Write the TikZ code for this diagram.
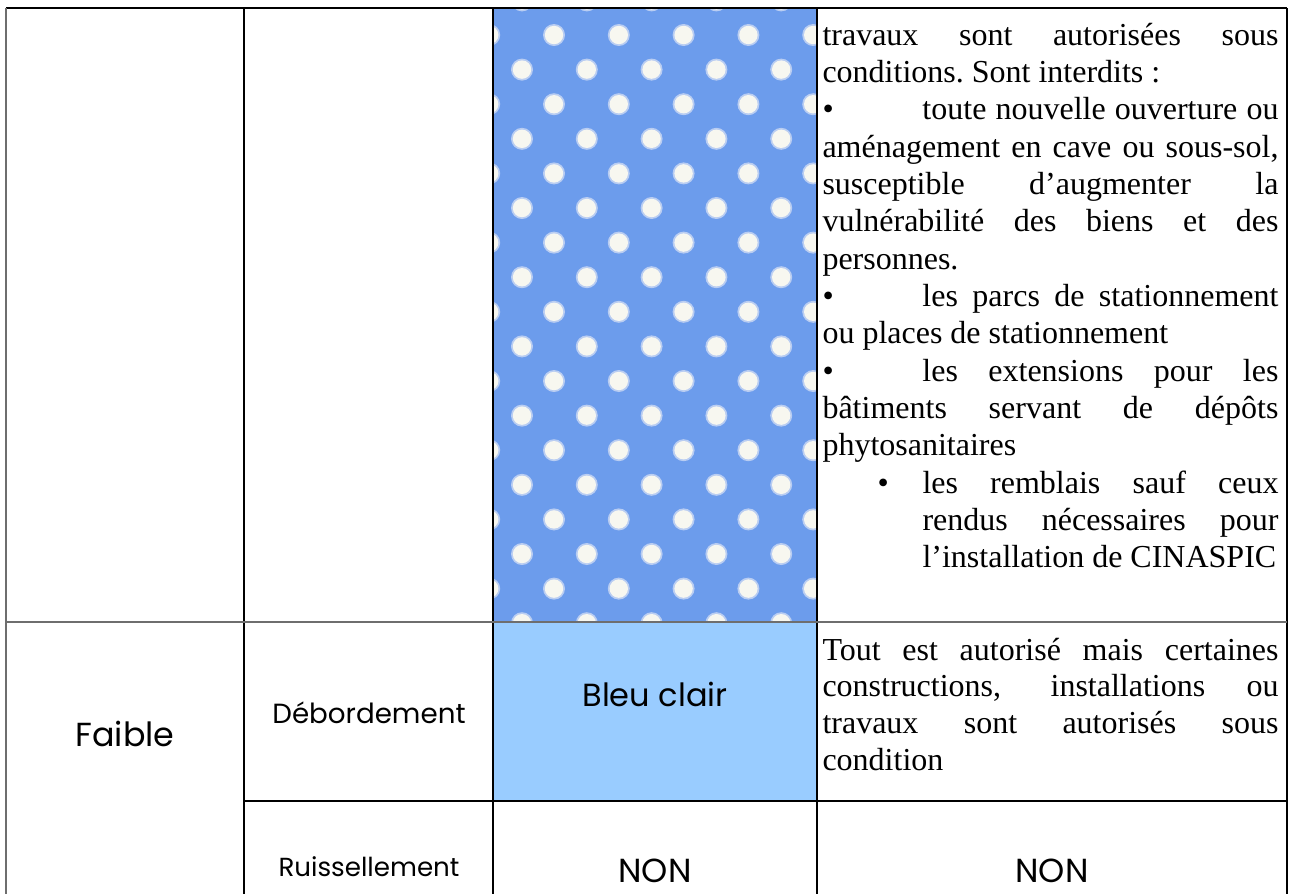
\documentclass[tikz,border=0pt]{standalone}
\usepackage{fontspec}
\setmainfont{Liberation Serif}
\newfontfamily\gothic{Poppins}

\definecolor{pois}{RGB}{108,156,236}
\definecolor{poisbord}{RGB}{185,205,242}
\definecolor{poisblanc}{RGB}{247,247,240}
\definecolor{bleuclair}{RGB}{153,204,255}
\definecolor{trait}{RGB}{110,110,110}

\newcommand{\puce}[1]{\makebox[#1][l]{\textbullet}}

\begin{document}
\tikzset{every picture/.style={line width=0.75pt}}
\tikzset{
  etiquette/.style={inner sep=0.75pt,font=\gothic},
  paragraphe/.style={anchor=base west,inner sep=0pt,text width=342pt,align=justify,
    font=\fontsize{24}{28}\selectfont},
  filet/.style={line width=1.1pt}
}

\begin{tikzpicture}[x=0.75pt,y=0.75pt,yscale=-1,xscale=1]
	\useasboundingbox (0,0) rectangle (1292,894);

	%Shape: Rectangle, blue cell with white dots
	\begin{scope}
	\clip (493,8) rectangle (817,622);
	\fill [pois] (493,8) rectangle (817,622);
	\foreach \k in {-1,...,17} {
		\pgfmathsetmacro{\yy}{35+34.6*\k}
		\pgfmathsetmacro{\xo}{ifthenelse(mod(\k+2,2)==0,554,522)}
		\foreach \j in {-1,...,5} {
			\fill [poisbord] (\xo+64.8*\j,\yy) circle (11);
			\fill [poisblanc] (\xo+64.8*\j,\yy) circle (9.2);
		}
	}
	\end{scope}
	%Shape: Rectangle, light blue cell
	\fill [bleuclair] (493,622) rectangle (817,801);

	%Straight Lines
	\draw [filet] (6,8) -- (1287,8) ;
	\draw [filet,trait] (6,8) -- (6,894) ;
	\draw [filet] (244,8) -- (244,894) ;
	\draw [filet] (493,8) -- (493,894) ;
	\draw [filet] (817,8) -- (817,894) ;
	\draw [filet] (1287,8) -- (1287,894) ;
	\draw [filet,trait] (6,622) -- (1287,622) ;
	\draw [filet] (244,801) -- (1287,801) ;

	% Text Node
	\node (faible) [etiquette,font=\gothic\fontsize{25}{30}\selectfont] at (125,734) {Faible};
	% Text Node
	\node (debordement) [etiquette,font=\gothic\fontsize{20.8}{24}\selectfont] at (369,713) {Débordement};
	% Text Node
	\node (ruissellement) [etiquette,font=\gothic\fontsize{19.6}{24}\selectfont] at (369,867) {Ruissellement};
	% Text Node
	\node (bleu) [etiquette,font=\gothic\fontsize{24}{28}\selectfont] at (655,694) {Bleu clair};
	% Text Node
	\node (non1) [etiquette,font=\gothic\fontsize{25}{28}\selectfont] at (655,871) {NON};
	% Text Node
	\node (non2) [etiquette,font=\gothic\fontsize{25}{28}\selectfont] at (1052,871) {NON};

	% Text Node
	\node (interdits) [paragraphe] at (822,45) {\frenchspacing
		travaux sont autorisées sous\linebreak conditions. Sont interdits~:\par
		\puce{75pt}toute nouvelle ouverture ou\linebreak aménagement en cave ou sous-sol,\linebreak susceptible d’augmenter la\linebreak vulnérabilité des biens et des\linebreak personnes.\par
		\puce{75pt}les parcs de stationnement\linebreak ou places de stationnement\par
		\puce{75pt}les extensions pour les\linebreak bâtiments servant de dépôts\linebreak phytosanitaires\par
		\leftskip=75pt\noindent\llap{\puce{33.75pt}}les remblais sauf ceux\linebreak rendus nécessaires pour\linebreak l’installation de CINASPIC\par};
	% Text Node
	\node (condition) [paragraphe,font=\fontsize{24}{27.5}\selectfont] at (822,660) {%
		Tout est autorisé mais certaines\linebreak constructions, installations ou\linebreak travaux sont autorisés sous\linebreak condition\par};
\end{tikzpicture}
\end{document}
